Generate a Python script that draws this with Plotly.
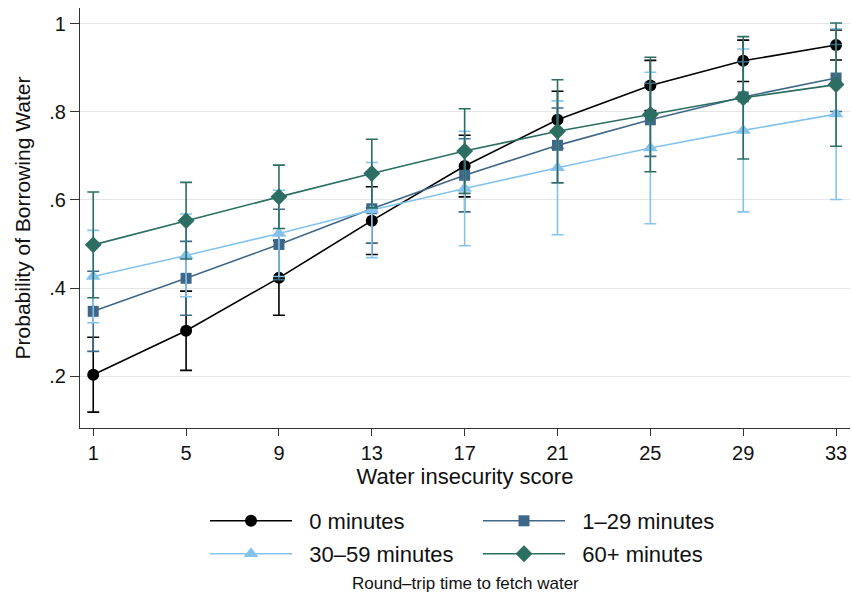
import plotly.graph_objects as go

x_scores = [1, 5, 9, 13, 17, 21, 25, 29, 33]

p_0min = [0.203, 0.303, 0.423, 0.553, 0.677, 0.782, 0.860, 0.916, 0.952]
ci_0min = [0.085, 0.090, 0.085, 0.077, 0.070, 0.065, 0.057, 0.047, 0.034]

p_1_29 = [0.347, 0.422, 0.499, 0.580, 0.656, 0.724, 0.782, 0.834, 0.877]
ci_1_29 = [0.091, 0.084, 0.080, 0.078, 0.083, 0.085, 0.083, 0.080, 0.076]

p_30_59 = [0.426, 0.474, 0.524, 0.577, 0.626, 0.673, 0.718, 0.758, 0.795]
ci_30_59 = [0.105, 0.094, 0.098, 0.108, 0.130, 0.152, 0.172, 0.185, 0.194]

p_60 = [0.498, 0.553, 0.607, 0.660, 0.711, 0.756, 0.794, 0.832, 0.862]
ci_60 = [0.120, 0.087, 0.072, 0.078, 0.096, 0.117, 0.130, 0.139, 0.140]

y_tickvals = [0.2, 0.4, 0.6, 0.8, 1.0]
y_ticktext = [".2", ".4", ".6", ".8", "1"]

series = [
    ("0 minutes", p_0min, ci_0min, "#000000", "circle", 12, "legend"),
    ("1\u201329 minutes", p_1_29, ci_1_29, "#3F6888", "square", 11, "legend"),
    ("30\u201359 minutes", p_30_59, ci_30_59, "#86C3EC", "triangle-up", 13, "legend2"),
    ("60+ minutes", p_60, ci_60, "#2C6E62", "diamond", 13, "legend2"),
]

FONT = "Liberation Sans, Arial, Helvetica, sans-serif"

fig = go.Figure()
for name, vals, ci, color, sym, size, leg in series:
    fig.add_trace(go.Scatter(
        x=x_scores, y=vals, name="\u00a0\u00a0" + name, mode="lines+markers", legend=leg,
        line=dict(color=color, width=1.6),
        marker=dict(symbol=sym, size=size, color=color),
        error_y=dict(type="data", array=ci, visible=True, color=color,
                     thickness=1.6, width=6),
    ))

W, H = 852, 597

legend_common = dict(
    orientation="h", xref="container", yref="container",
    xanchor="left", yanchor="middle",
    entrywidth=176, entrywidthmode="pixels", itemwidth=82,
    font=dict(size=22, family=FONT, color="#111111"),
    itemsizing="trace", bgcolor="rgba(0,0,0,0)",
)

fig.update_layout(
    width=W, height=H,
    margin=dict(l=80, r=2, t=8, b=169),
    plot_bgcolor="white", paper_bgcolor="white",
    font=dict(family=FONT, size=20, color="#111111"),
    showlegend=True,
    legend=dict(legend_common, x=205 / W, y=1 - 521 / H),
    legend2=dict(legend_common, x=205 / W, y=1 - 554 / H),
    annotations=[dict(
        text="Round\u2013trip time to fetch water", xref="paper", yref="paper",
        x=(465 - 80) / 770, y=-(583 - 428) / 420, xanchor="center", yanchor="middle",
        showarrow=False, font=dict(size=17, family=FONT, color="#111111"),
    )],
)

fig.update_xaxes(
    range=[0.43, 33.6], tickvals=x_scores, ticktext=[str(v) for v in x_scores],
    showline=True, linecolor="#333333", linewidth=1.3,
    ticks="outside", ticklen=7, tickcolor="#333333", tickwidth=1.3,
    showgrid=False, zeroline=False,
    title=dict(text="Water insecurity score", standoff=2, font=dict(size=22)),
    tickfont=dict(size=20),
)
fig.update_yaxes(
    range=[0.082, 1.036], tickvals=y_tickvals, ticktext=y_ticktext,
    showline=True, linecolor="#333333", linewidth=1.3,
    ticks="outside", ticklen=9, tickcolor="#333333", tickwidth=1.3,
    showgrid=True, gridcolor="#E6E6E6", gridwidth=1, zeroline=False,
    title=dict(text="Probability of Borrowing Water", standoff=12, font=dict(size=21)),
    tickfont=dict(size=20),
)

fig.write_html(
    "out.html",
    config={"displayModeBar": False},
    post_script="document.body.style.margin='0px';document.body.style.overflow='hidden';",
)
